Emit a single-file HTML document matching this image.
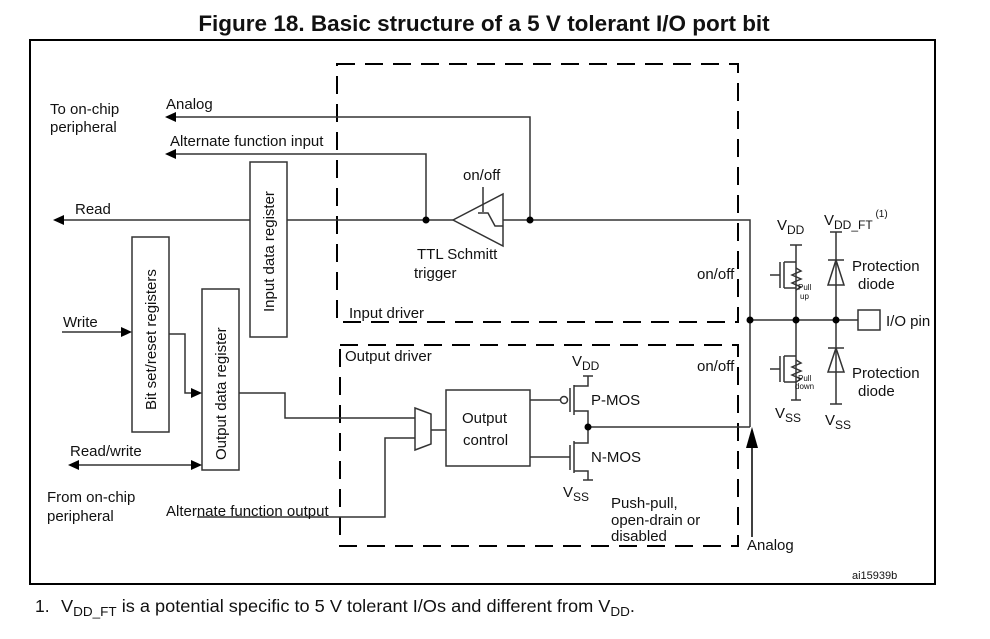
<!DOCTYPE html>
<html><head><meta charset="utf-8"><style>
body{margin:0;background:#fff;}
svg{display:block;}
text{font-family:"Liberation Sans",Arial,sans-serif;fill:#111;}
</style></head><body>
<svg width="990" height="639" viewBox="0 0 990 639" xmlns="http://www.w3.org/2000/svg">
<text x="484" y="31" font-size="22.5" font-weight="bold" text-anchor="middle">Figure 18. Basic structure of a 5 V tolerant I/O port bit</text>
<rect x="30" y="40" width="905" height="544" fill="none" stroke="#000" stroke-width="2"/>

<g stroke="#000" stroke-width="2" fill="none" stroke-dasharray="18,10">
<path d="M337,64 H738 V322 H337 Z"/>
<path d="M340,345 H738 V546 H340 Z"/>
</g>

<g stroke="#333" stroke-width="1.5" fill="none">
<path d="M175,117 H530 V220"/>
<path d="M175,154 H426 V220"/>
<path d="M63,220 H453"/>
<path d="M503,220 H750 V427"/>
<path d="M750,320 H858"/>
<rect x="250" y="162" width="37" height="175" fill="#fff"/>
<rect x="132" y="237" width="37" height="195" fill="#fff"/>
<rect x="202" y="289" width="37" height="181" fill="#fff"/>
<path d="M62,332 H122"/>
<path d="M169,334 H185 V393 H193"/>
<path d="M239,393 H285 V418 H415"/>
<path d="M78,465 H193"/>
<path d="M197,517 H385 V438 H415"/>
<path d="M415,408 L431,414 L431,444 L415,450 Z"/>
<path d="M431,430 H446"/>
<rect x="446" y="390" width="84" height="76"/>
<path d="M530,400 H560"/>
<circle cx="564" cy="400" r="3.5"/>
<path d="M530,457 H570"/>
<path d="M570,388 V412 M574,385 V415 M574,386 H588 V376 M583,376 H593 M574,411 H588 V443 H574 M570,445 V470 M574,441 V473 M574,471 H588 V480 M583,480 H593"/>
<path d="M588,427 H750"/>
<path d="M453,220 L503,194 L503,246 Z"/>
<path d="M483,212 V187"/>
<path d="M478,213 H488 L495,226 H503 M488,213 L495,226"/>
<path d="M796,245 V400 M791,400 H801 M790,245 H802"/>
<path d="M770,275 H780 M780,262 V288 M784,262 V288 M784,262 H796 M784,288 H796"/>
<path d="M796,268 l5,3 l-9,4 l9,4 l-9,4 l9,4 l-5,3"/>
<path d="M770,369 H780 M780,356 V382 M784,356 V382 M784,356 H796 M784,382 H796"/>
<path d="M796,360 l5,3 l-9,4 l9,4 l-9,4 l9,4 l-5,3"/>
<path d="M836,232 V404 M830,232 H842 M830,404 H842"/>
<path d="M828,260 H844 M828,285 L836,260 L844,285 Z"/>
<path d="M828,348 H844 M828,372 L836,348 L844,372 Z"/>
<rect x="858" y="310" width="22" height="20"/>
</g>
<g fill="#000">
<path d="M165,117 L176,112 L176,122 Z"/>
<path d="M165,154 L176,149 L176,159 Z"/>
<path d="M53,220 L64,215 L64,225 Z"/>
<path d="M132,332 L121,327 L121,337 Z"/>
<path d="M202,393 L191,388 L191,398 Z"/>
<path d="M68,465 L79,460 L79,470 Z"/>
<path d="M202,465 L191,460 L191,470 Z"/>
<path d="M752,427 L746,448 L758,448 Z"/>
<circle cx="426" cy="220" r="3.5"/><circle cx="530" cy="220" r="3.5"/>
<circle cx="588" cy="427" r="3.5"/>
<circle cx="750" cy="320" r="3.5"/><circle cx="796" cy="320" r="3.5"/><circle cx="836" cy="320" r="3.5"/>
</g>
<path d="M752,440 V537" stroke="#000" stroke-width="1.5"/>

<g font-size="15">
<text x="50" y="114">To on-chip</text><text x="50" y="132">peripheral</text>
<text x="166" y="109">Analog</text>
<text x="170" y="146">Alternate function input</text>
<text x="75" y="214">Read</text>
<text x="63" y="327">Write</text>
<text x="70" y="456">Read/write</text>
<text x="47" y="502">From on-chip</text><text x="47" y="521">peripheral</text>
<text x="166" y="516">Alternate function output</text>
<text x="463" y="180">on/off</text>
<text x="417" y="259">TTL Schmitt</text><text x="414" y="278">trigger</text>
<text x="697" y="279">on/off</text>
<text x="697" y="371">on/off</text>
<text x="349" y="318">Input driver</text>
<text x="345" y="361">Output driver</text>
<text x="462" y="423">Output</text><text x="463" y="445">control</text>
<text x="591" y="405">P-MOS</text><text x="591" y="462">N-MOS</text>
<text x="572" y="366">V<tspan font-size="12" dy="4">DD</tspan></text>
<text x="563" y="497">V<tspan font-size="12" dy="4">SS</tspan></text>
<text x="611" y="508">Push-pull,</text><text x="611" y="525">open-drain or</text><text x="611" y="541">disabled</text>
<text x="747" y="550">Analog</text>
<text x="777" y="230">V<tspan font-size="12" dy="4">DD</tspan></text>
<text x="824" y="225">V<tspan font-size="12" dy="4">DD_FT</tspan><tspan font-size="10" dy="-12"> (1)</tspan></text>
<text x="852" y="271">Protection</text><text x="858" y="289">diode</text>
<text x="852" y="378">Protection</text><text x="858" y="396">diode</text>
<text x="886" y="326">I/O pin</text>
<text x="775" y="418">V<tspan font-size="12" dy="4">SS</tspan></text>
<text x="825" y="425">V<tspan font-size="12" dy="4">SS</tspan></text>
<text x="852" y="579" font-size="11">ai15939b</text>
<text x="35" y="612" font-size="17.5">1.</text>
<text x="61" y="612" font-size="17.5" textLength="574" lengthAdjust="spacingAndGlyphs">V<tspan font-size="13" dy="4">DD_FT</tspan><tspan dy="-4"> is a potential specific to 5 V tolerant I/Os and different from V</tspan><tspan font-size="13" dy="4">DD</tspan><tspan dy="-4">.</tspan></text>
</g>
<g font-size="8">
<text x="798" y="290">Pull</text><text x="800" y="299">up</text>
<text x="798" y="381">Pull</text><text x="795" y="389">down</text>
</g>
<g font-size="15">
<text transform="translate(274,312) rotate(-90)">Input data register</text>
<text transform="translate(156,410) rotate(-90)">Bit set/reset registers</text>
<text transform="translate(226,460) rotate(-90)">Output data register</text>
</g>
</svg>
</body></html>
